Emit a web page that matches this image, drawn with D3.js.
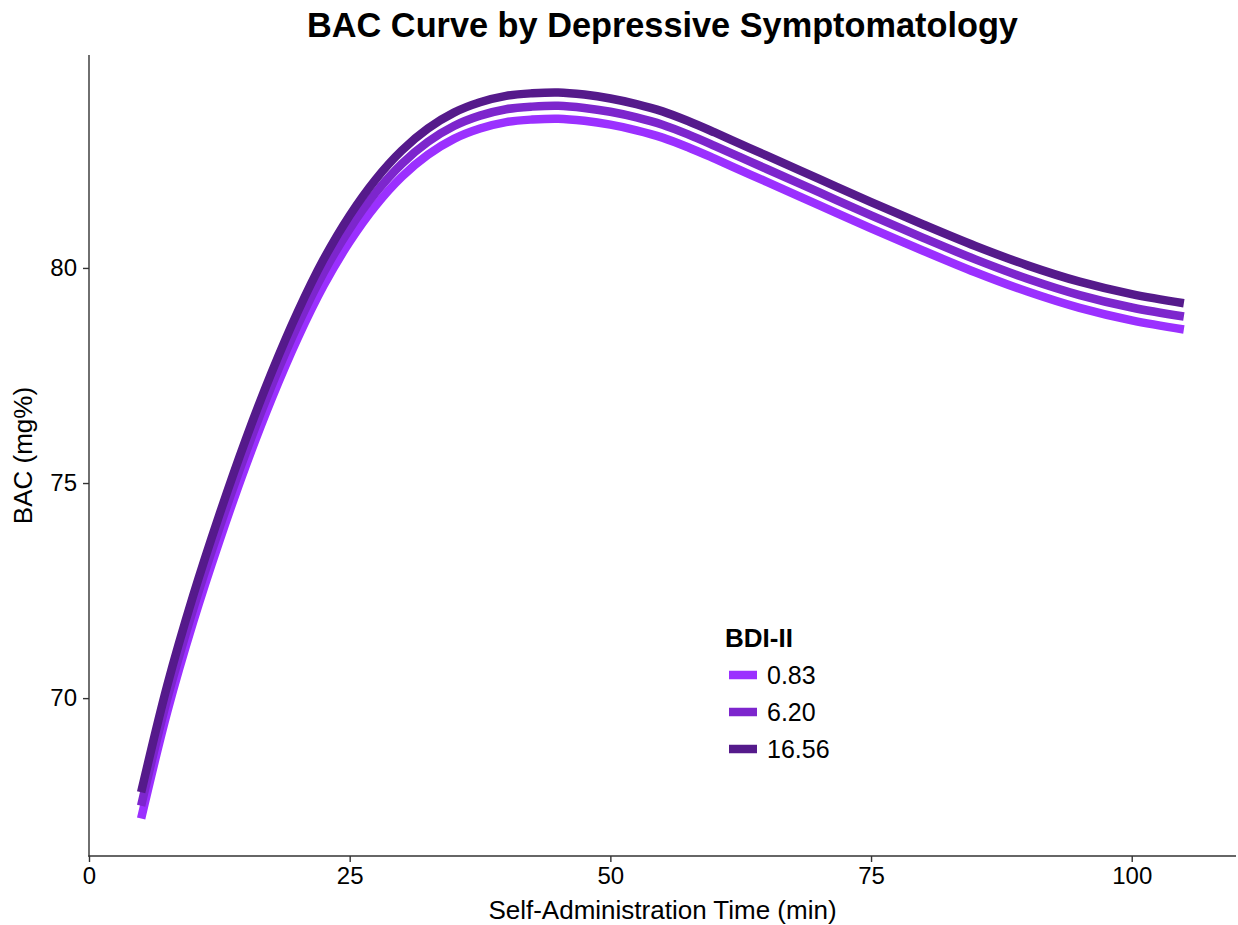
<!DOCTYPE html>
<html>
<head>
<meta charset="utf-8">
<script src="https://cdn.jsdelivr.net/npm/d3@7"></script>
<style>
  html, body { margin: 0; padding: 0; background: #ffffff; }
  svg { display: block; font-family: "Liberation Sans", Arial, sans-serif; }
</style>
</head>
<body>
<svg id="chart" width="1238" height="925"></svg>
<script>
// Self-administration time (min)
const times = [5, 7.5, 10, 12.5, 15, 17.5, 20, 22.5, 25, 27.5, 30, 32.5, 35, 37.5, 40, 42.5,
               45, 47.5, 50, 52.5, 55, 57.5, 60, 62.5, 65, 70, 75, 80, 85, 90, 95, 100, 105];

// Predicted BAC (mg%) at each BDI-II level
const bacLow  = [67.20, 69.68, 71.78, 73.65, 75.38, 76.95, 78.36, 79.59, 80.61, 81.45, 82.12, 82.63, 83.00, 83.24, 83.39, 83.45,
                 83.47, 83.42, 83.33, 83.20, 83.03, 82.80, 82.54, 82.27, 82.00, 81.46, 80.92, 80.40, 79.90, 79.45, 79.07, 78.78, 78.57];
const bacMid  = [67.50, 69.98, 72.08, 73.95, 75.68, 77.25, 78.66, 79.89, 80.91, 81.75, 82.42, 82.93, 83.30, 83.54, 83.69, 83.75,
                 83.77, 83.72, 83.63, 83.50, 83.33, 83.10, 82.84, 82.57, 82.30, 81.76, 81.22, 80.70, 80.20, 79.75, 79.37, 79.08, 78.87];
const bacHigh = [67.81, 70.29, 72.39, 74.26, 75.99, 77.56, 78.97, 80.20, 81.22, 82.06, 82.73, 83.24, 83.61, 83.85, 84.00, 84.06,
                 84.08, 84.03, 83.94, 83.81, 83.64, 83.41, 83.15, 82.88, 82.61, 82.07, 81.53, 81.01, 80.51, 80.06, 79.68, 79.39, 79.18];

const bdiLevels = ["0.83", "6.20", "16.56"];
const bdiColors = ["#9B30FF", "#7D26CD", "#551A8B"];

const xTicks = [0, 25, 50, 75, 100];
const yTicks = [70, 75, 80];

const series = [bacLow, bacMid, bacHigh].map((vals, i) => ({
  level: bdiLevels[i],
  color: bdiColors[i],
  points: times.map((t, j) => ({ t, v: vals[j] }))
}));

const svg = d3.select("#chart");
const panel = { left: 89, right: 1236, top: 55, bottom: 856 };

const x = d3.scaleLinear().domain([0, 110]).range([panel.left, panel.right]);
const y = d3.scaleLinear().domain([66.33, 84.95]).range([panel.bottom, panel.top]);

const axisColor = "#333333";

// Curves, drawn from the lowest to the highest BDI-II level
const line = d3.line()
  .x(d => x(d.t))
  .y(d => y(d.v))
  .curve(d3.curveCatmullRom.alpha(0.5));

svg.append("g")
  .selectAll("path")
  .data(series)
  .join("path")
  .attr("d", d => line(d.points))
  .attr("fill", "none")
  .attr("stroke", d => d.color)
  .attr("stroke-width", 8.5)
  .attr("stroke-linecap", "butt")
  .attr("stroke-linejoin", "round");

// Axes
const xAxis = svg.append("g")
  .attr("transform", `translate(0,${panel.bottom})`)
  .call(d3.axisBottom(x).tickValues(xTicks).tickSize(6).tickPadding(5).tickFormat(d3.format("d")));
const yAxis = svg.append("g")
  .attr("transform", `translate(${panel.left},0)`)
  .call(d3.axisLeft(y).tickValues(yTicks).tickSize(6).tickPadding(6).tickFormat(d3.format("d")));

[xAxis, yAxis].forEach(g => {
  g.select(".domain").remove();
  g.selectAll(".tick line").attr("stroke", axisColor).attr("stroke-width", 1.4);
  g.selectAll(".tick text")
    .attr("fill", "#000")
    .attr("font-size", 24)
    .attr("font-family", "Liberation Sans, Arial, sans-serif");
});
xAxis.selectAll(".tick text").attr("dy", "0.71em");

// Axis lines
svg.append("line")
  .attr("x1", panel.left).attr("x2", panel.left)
  .attr("y1", panel.top).attr("y2", panel.bottom + 0.7)
  .attr("stroke", axisColor).attr("stroke-width", 1.4);
svg.append("line")
  .attr("x1", panel.left - 0.7).attr("x2", panel.right)
  .attr("y1", panel.bottom).attr("y2", panel.bottom)
  .attr("stroke", axisColor).attr("stroke-width", 1.4);

// Title
svg.append("text")
  .attr("x", (panel.left + panel.right) / 2)
  .attr("y", 37)
  .attr("text-anchor", "middle")
  .attr("font-size", 34.3)
  .attr("font-weight", "bold")
  .text("BAC Curve by Depressive Symptomatology");

// Axis titles
svg.append("text")
  .attr("x", (panel.left + panel.right) / 2)
  .attr("y", 919)
  .attr("text-anchor", "middle")
  .attr("font-size", 26)
  .text("Self-Administration Time (min)");

svg.append("text")
  .attr("transform", `translate(32,${(panel.top + panel.bottom) / 2}) rotate(-90)`)
  .attr("text-anchor", "middle")
  .attr("font-size", 26)
  .text("BAC (mg%)");

// Legend
const legend = svg.append("g").attr("transform", "translate(725,0)");
legend.append("text")
  .attr("x", 0).attr("y", 647)
  .attr("font-size", 26)
  .attr("font-weight", "bold")
  .text("BDI-II");

const items = legend.selectAll("g.item")
  .data(series)
  .join("g")
  .attr("class", "item")
  .attr("transform", (d, i) => `translate(0,${675 + i * 37})`);

items.append("line")
  .attr("x1", 4).attr("x2", 32)
  .attr("y1", 0).attr("y2", 0)
  .attr("stroke", d => d.color)
  .attr("stroke-width", 8.5);

items.append("text")
  .attr("x", 42).attr("y", 9)
  .attr("font-size", 25)
  .text(d => d.level);
</script>
</body>
</html>
